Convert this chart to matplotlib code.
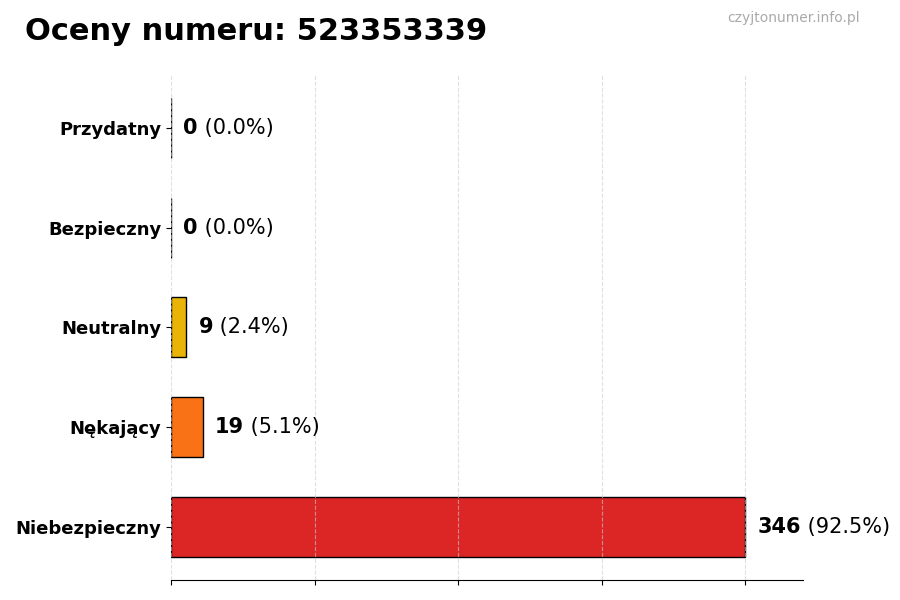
import matplotlib
matplotlib.use("Agg")
import matplotlib.pyplot as plt
import numpy as np

# categories from bottom to top
categories = ["Niebezpieczny", "Nękający", "Neutralny", "Bezpieczny", "Przydatny"]
counts = [346, 19, 9, 0, 0]
colors = ["#dc2626", "#f97316", "#eab308", "#3b82f6", "#22c55e"]
number = "523353339"

total = sum(counts)
max_count = max(counts)

fig = plt.figure(figsize=(9, 6), dpi=100)
ax = fig.add_axes([0.19, 0.0333, 0.702, 0.842])

ypos = np.arange(len(categories))
ax.barh(ypos, counts, height=0.6, color=colors, edgecolor="black", linewidth=1)

ax.set_yticks(ypos)
ax.set_yticklabels(categories, fontsize=13, fontweight="bold")
ax.set_xlim(0, max_count * 1.1)
ax.set_xticks(np.linspace(0, max_count, 5))
ax.set_xticklabels([])

# grid drawn over the bars, light dashed
ax.grid(axis="x", linestyle="--", color="#cccccc", linewidth=0.8, alpha=0.6)
ax.set_axisbelow(False)

for side in ["top", "right", "left"]:
    ax.spines[side].set_visible(False)

# value labels: bold count followed by normal percentage
for y, c in zip(ypos, counts):
    pct = c / total * 100 if total else 0
    t = ax.annotate(str(c), xy=(c, y), xytext=(9, 0), textcoords="offset points",
                    ha="left", va="center", fontsize=15, fontweight="bold")
    ax.annotate(f" ({pct:.1f}%)", xy=(1, 0), xycoords=t, ha="left", va="bottom",
                fontsize=15)

fig.text(0.028, 0.948, f"Oceny numeru: {number}", fontsize=22, fontweight="bold",
         ha="left", va="center")
fig.text(0.955, 0.97, "czyjtonumer.info.pl", fontsize=10, color="#aaaaaa",
         ha="right", va="center")

fig.savefig("out.png", dpi=100)
